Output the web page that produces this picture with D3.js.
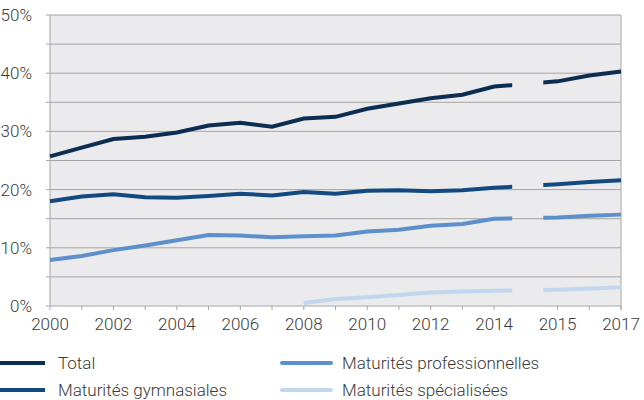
<!DOCTYPE html>
<html>
<head>
<meta charset="utf-8">
<script src="https://cdn.jsdelivr.net/npm/d3@7"></script>
<style>
  body { margin: 0; background: #fff; }
  text { font-family: Roboto, sans-serif; font-weight: 300; fill: #3a3a3a; }
</style>
</head>
<body>
<svg id="chart" width="644" height="400"></svg>
<script>
// years and where they sit on the axis (2015 comes after a break)
const years = [2000, 2001, 2002, 2003, 2004, 2005, 2006, 2007, 2008, 2009, 2010, 2011, 2012, 2013, 2014, 2015, 2016, 2017];
const slots = [0, 1, 2, 3, 4, 5, 6, 7, 8, 9, 10, 11, 12, 13, 14, 16, 17, 18];
const tickLabels = ['2000', '2002', '2004', '2006', '2008', '2010', '2012', '2014', '2015', '2017'];
const yTicks = [0, 10, 20, 30, 40, 50];

const total = [25.7, 27.2, 28.7, 29.1, 29.8, 31.0, 31.5, 30.8, 32.2, 32.5, 33.9, 34.8, 35.7, 36.3, 37.7, 38.6, 39.6, 40.3];
const gymnasiales = [18.0, 18.8, 19.2, 18.7, 18.6, 18.9, 19.3, 19.0, 19.6, 19.3, 19.8, 19.9, 19.7, 19.9, 20.3, 20.9, 21.3, 21.6];
const professionnelles = [7.9, 8.6, 9.6, 10.4, 11.3, 12.2, 12.1, 11.8, 12.0, 12.1, 12.8, 13.1, 13.8, 14.1, 15.0, 15.2, 15.5, 15.7];
const specialisees = [null, null, null, null, null, null, null, null, 0.5, 1.2, 1.5, 1.9, 2.3, 2.5, 2.6, 2.8, 3.0, 3.2];

const series = [
  { name: 'Total', values: total, color: '#0c2d52' },
  { name: 'Maturités gymnasiales', values: gymnasiales, color: '#124a7f' },
  { name: 'Maturités professionnelles', values: professionnelles, color: '#5d8fcd' },
  { name: 'Maturités spécialisées', values: specialisees, color: '#c2d6ee' }
];

const svg = d3.select('#chart');
const m = { left: 50, right: 621, top: 15, bottom: 306 };

const x = d3.scaleLinear().domain([0, 18]).range([m.left, m.right]);
const y = d3.scaleLinear().domain([0, 50]).range([m.bottom, m.top]);
const slotOf = yr => slots[years.indexOf(yr)];

svg.append('rect')
  .attr('x', m.left).attr('y', m.top)
  .attr('width', m.right - m.left).attr('height', m.bottom - m.top)
  .attr('fill', '#ebebed');

// gridlines every 5%
svg.append('g')
  .selectAll('line')
  .data(d3.range(5, 51, 5))
  .join('line')
  .attr('x1', m.left - 4).attr('x2', m.right)
  .attr('y1', d => y(d)).attr('y2', d => y(d))
  .attr('stroke', '#a6a6a6').attr('stroke-width', 1);

// y labels
svg.append('g')
  .selectAll('text')
  .data(yTicks)
  .join('text')
  .attr('x', 32)
  .attr('y', d => y(d) + 6)
  .attr('text-anchor', 'end')
  .style('font-size', '17px')
  .text(d => d + '%');

// frame
svg.append('line')
  .attr('x1', m.left).attr('x2', m.left).attr('y1', m.top).attr('y2', m.bottom)
  .attr('stroke', '#a6a6a6');
svg.append('line')
  .attr('x1', m.right).attr('x2', m.right).attr('y1', m.top).attr('y2', m.bottom + 4)
  .attr('stroke', '#a6a6a6');
svg.append('line')
  .attr('x1', m.left - 4).attr('x2', m.right).attr('y1', m.bottom).attr('y2', m.bottom)
  .attr('stroke', '#a6a6a6');

// break region between 2014 and 2015
const gapA = x(14.57), gapB = x(15.55);
svg.append('line')
  .attr('x1', gapA).attr('x2', gapB).attr('y1', m.bottom).attr('y2', m.bottom)
  .attr('stroke', '#d2d2d4').attr('stroke-width', 1.5);

// x ticks
svg.append('g')
  .selectAll('line')
  .data(slots)
  .join('line')
  .attr('x1', d => x(d)).attr('x2', d => x(d))
  .attr('y1', m.bottom).attr('y2', m.bottom + 4)
  .attr('stroke', '#a6a6a6');

svg.append('g')
  .selectAll('text')
  .data(tickLabels)
  .join('text')
  .attr('x', d => x(slotOf(+d)))
  .attr('y', m.bottom + 24)
  .attr('text-anchor', 'middle')
  .style('font-size', '17px')
  .text(d => d);

// clip so lines break between 2014 and 2015
const clip = svg.append('defs').append('clipPath').attr('id', 'gap');
clip.append('rect').attr('x', 0).attr('y', 0).attr('width', gapA).attr('height', 400);
clip.append('rect').attr('x', gapB).attr('y', 0).attr('width', 644 - gapB).attr('height', 400);

const line = d3.line()
  .defined(d => d != null)
  .x((d, i) => x(slots[i]))
  .y(d => y(d));

svg.append('g')
  .attr('clip-path', 'url(#gap)')
  .selectAll('path')
  .data(series.slice().reverse())
  .join('path')
  .attr('d', d => line(d.values))
  .attr('fill', 'none')
  .attr('stroke', d => d.color)
  .attr('stroke-width', 4);

// legend
const legendPos = [[0, 363], [0, 390], [282, 363], [282, 390]];
const legend = svg.append('g')
  .selectAll('g')
  .data(series)
  .join('g')
  .attr('transform', (d, i) => `translate(${legendPos[i][0]},${legendPos[i][1]})`);

legend.append('line')
  .attr('x1', (d, i) => i < 2 ? -3 : 0)
  .attr('x2', (d, i) => i < 2 ? 45 : 49)
  .attr('stroke', d => d.color)
  .attr('stroke-width', 4)
  .attr('stroke-linecap', (d, i) => i < 2 ? 'butt' : 'round');

legend.append('text')
  .attr('x', (d, i) => i < 2 ? 58 : 60)
  .attr('y', 6)
  .style('font-size', '17px')
  .text(d => d.name);
</script>
</body>
</html>
